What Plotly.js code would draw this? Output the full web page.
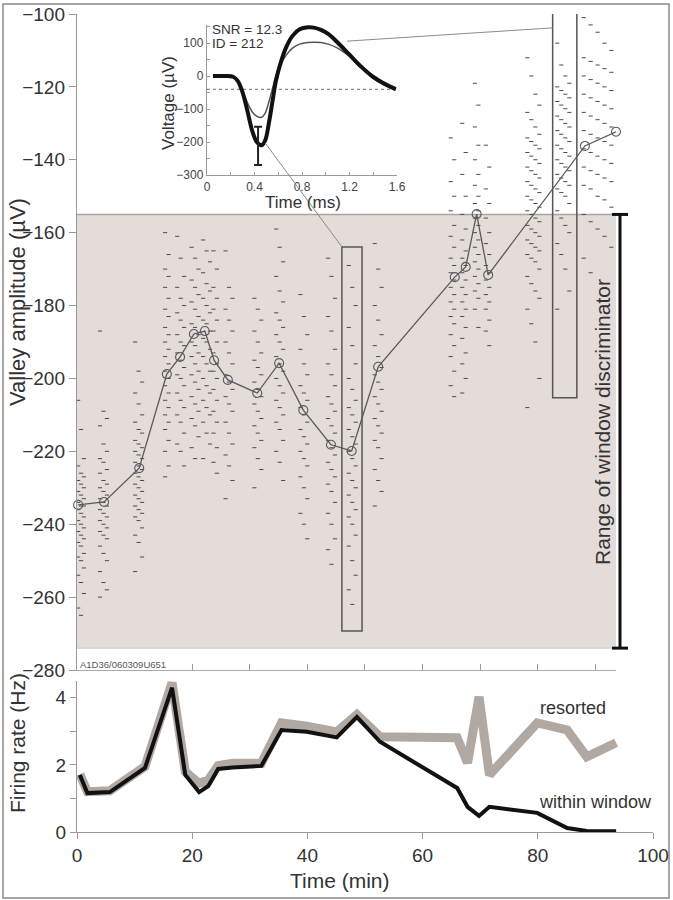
<!DOCTYPE html>
<html><head><meta charset="utf-8">
<script src="https://cdn.plot.ly/plotly-3.0.1.min.js"></script>
<style>html,body{margin:0;padding:0;background:#fff}#chart{width:673px;height:900px}</style>
</head><body><div id="chart"></div>
<script>
// ---------- DATA ----------
// spike valley amplitudes: time columns (min) for each recording block, and amplitudes (µV)
const clusterTimes = [
  [0.2,0.7,1.2],[4.0,4.6,5.2],[10.1,10.7,11.3],[15.3,15.9],[17.4,18.0,18.6],
  [19.9,20.5,21.1],[21.9,22.5,23.1],[23.7,24.3],[25.8,26.4,27.0],[30.8,31.4,32.0],
  [34.6,35.2,35.8],[38.8,39.4,40.0],[43.6,44.2,44.8],[47.2,47.8,48.4],[51.7,52.3,52.9],
  [64.9,65.5],[66.9,67.5],[69.1,69.7],[71.0,71.6],[78.2,78.9,79.6,80.3],
  [83.4,84.1,84.8,85.5],[88.0,89.2,90.4,91.6,92.8]
];
const clusterAmps = [
  [-206,-214,-222,-224,-226,-227,-228,-229,-230,-231,-232,-233,-234,-235,-235,-236,-237,-238,-239,-240,-241,-242,-243,-244,-245,-246,-248,-249,-250,-252,-254,-256,-259,-263,-265],
  [-187,-209,-211,-213,-218,-220,-222,-223,-225,-226,-228,-229,-230,-231,-232,-233,-234,-235,-236,-237,-238,-239,-240,-241,-242,-243,-244,-246,-248,-250,-253,-256,-258,-260],
  [-190,-198,-201,-204,-207,-210,-212,-214,-215,-217,-218,-219,-220,-221,-222,-223,-224,-225,-226,-227,-228,-229,-230,-231,-232,-233,-234,-235,-236,-237,-238,-239,-241,-243,-245,-249,-253],
  [-160,-166,-170,-172,-175,-178,-181,-183,-186,-188,-190,-192,-194,-196,-198,-200,-202,-204,-206,-208,-210,-212,-214,-217,-220,-224,-227],
  [-161,-167,-172,-175,-178,-180,-182,-184,-186,-188,-190,-191,-193,-195,-197,-199,-200,-202,-204,-206,-208,-210,-212,-215,-218,-220,-224],
  [-164,-167,-170,-173,-175,-177,-179,-181,-183,-185,-186,-188,-190,-191,-193,-194,-196,-198,-199,-201,-203,-205,-207,-209,-211,-213,-216,-219,-222],
  [-162,-165,-168,-171,-174,-176,-178,-180,-182,-184,-185,-187,-189,-190,-192,-194,-196,-198,-200,-202,-204,-206,-208,-210,-212,-215,-218,-222],
  [-165,-170,-175,-178,-181,-184,-187,-190,-193,-196,-198,-200,-203,-206,-209,-212,-215,-219,-223,-226],
  [-165,-175,-178,-181,-184,-187,-190,-193,-196,-199,-201,-203,-205,-207,-209,-212,-215,-218,-221,-224,-228,-233],
  [-178,-181,-184,-187,-190,-193,-195,-197,-199,-201,-203,-205,-207,-209,-211,-213,-215,-217,-219,-222,-225,-230],
  [-159,-164,-168,-172,-176,-179,-182,-184,-186,-188,-190,-192,-194,-196,-198,-200,-202,-204,-206,-208,-210,-212,-214,-217,-220,-223,-228],
  [-177,-183,-188,-192,-196,-199,-202,-204,-206,-208,-210,-212,-214,-216,-218,-220,-222,-224,-227,-230,-233,-237,-240,-244],
  [-167,-172,-178,-183,-187,-192,-196,-199,-202,-205,-207,-209,-211,-213,-215,-217,-219,-221,-223,-225,-227,-229,-231,-234,-237,-240,-244,-247,-251],
  [-169,-175,-180,-186,-191,-196,-200,-203,-206,-208,-210,-212,-214,-216,-218,-220,-222,-224,-226,-228,-230,-232,-234,-236,-238,-240,-243,-246,-250,-254,-258,-262],
  [-163,-170,-175,-180,-184,-188,-191,-194,-197,-199,-201,-203,-205,-207,-209,-211,-213,-215,-217,-219,-222,-225,-228,-231,-235],
  [-134,-140,-146,-150,-154,-158,-161,-164,-167,-169,-171,-173,-175,-177,-179,-181,-183,-185,-188,-191,-194,-198,-202,-205],
  [-130,-138,-144,-150,-155,-159,-162,-165,-167,-169,-171,-173,-175,-177,-179,-181,-183,-186,-189,-193,-196,-200,-204],
  [-119,-125,-131,-136,-140,-144,-147,-150,-152,-154,-156,-158,-160,-162,-164,-166,-168,-170,-172,-174,-176,-178,-181,-186],
  [-136,-142,-148,-152,-156,-160,-163,-166,-169,-171,-173,-175,-177,-179,-181,-184,-187,-191],
  [-112,-117,-122,-125,-127,-129,-131,-133,-134,-135,-136,-137,-138,-139,-140,-141,-142,-143,-144,-145,-146,-147,-148,-149,-150,-151,-152,-153,-154,-155,-156,-157,-158,-159,-160,-161,-162,-163,-164,-165,-166,-167,-168,-170,-172,-174,-176,-178,-181,-185,-190,-200,-208],
  [-108,-114,-117,-119,-120,-121,-122,-123,-124,-125,-126,-127,-128,-129,-130,-131,-132,-133,-134,-135,-136,-137,-138,-139,-140,-141,-142,-143,-144,-145,-146,-147,-148,-149,-150,-152,-154,-156,-158,-160,-163,-166,-170,-176,-181],
  [-101,-103,-105,-108,-110,-112,-113,-114,-115,-116,-117,-118,-119,-120,-121,-122,-123,-124,-125,-126,-127,-128,-129,-130,-131,-132,-133,-134,-135,-136,-137,-138,-139,-140,-141,-142,-143,-144,-145,-146,-147,-148,-150,-151,-153,-155,-157,-159,-161,-164,-167,-171]
];
// block means
const meanTime = [0.2,4.7,10.8,15.6,17.9,20.3,22.2,23.8,26.2,31.3,35.1,39.3,44.1,47.7,52.3,65.6,67.5,69.4,71.4,88.2,93.6];
const meanAmp  = [-234.7,-233.9,-224.6,-198.8,-194.1,-187.8,-187,-195,-200.4,-204,-195.8,-208.7,-218.2,-219.9,-196.8,-172.2,-169.4,-154.9,-171.6,-136.2,-132.3];
// window discriminator range and highlighted blocks
const windowRange = [-274, -155];
const box1 = {t: [46.0, 49.5], v: [-269.3, -163.9]};
const box2 = {t: [82.6, 86.8], v: [-205.3, -99.7]};
// firing rate
const rateTime = [0.5,1.8,5.7,11.8,16.5,18.8,21.2,22.8,24.5,27,32,35.5,39.9,45.1,48.6,52.6,66,67.8,69.8,71.6,79.9,85.1,88.5,93.6];
const rateWithin   = [1.70,1.16,1.19,1.91,4.30,1.70,1.19,1.37,1.88,1.92,1.97,3.04,2.99,2.82,3.43,2.69,1.31,0.75,0.48,0.75,0.57,0.12,0.03,0.02];
const rateResorted = [1.72,1.20,1.23,1.95,4.45,1.80,1.45,1.55,1.98,2.05,2.05,3.25,3.15,2.98,3.50,2.84,2.81,2.06,4.03,1.70,3.25,3.04,2.24,2.66];
// inset waveform
const waveTime  = [0.05,0.15,0.22,0.26,0.30,0.34,0.38,0.42,0.46,0.49,0.52,0.55,0.58,0.62,0.67,0.72,0.78,0.85,0.90,0.96,1.02,1.10,1.20,1.30,1.40,1.50,1.59];
const waveThick = [0,0,-2,-15,-50,-105,-165,-200,-210,-195,-145,-80,-15,40,90,122,142,148,147,140,128,102,65,28,-3,-25,-40];
const waveThin  = [0,0,-2,-14,-45,-80,-108,-122,-125,-112,-80,-40,0,35,65,85,97,102,103,102,97,85,60,30,2,-20,-35];
const thresholdV = -40;
const errTime = 0.43, errMean = -212, errHalf = 58;
const snrText = 'SNR = 12.3', idText = 'ID = 212';
const unitLabel = 'A1D36/060309U651';

// ---------- LAYOUT HELPERS ----------
const W = 673, H = 900;
const PX = x => x / W, PY = y => 1 - y / H;
const FONT = '"Liberation Sans", Arial, sans-serif';
const TXT = '#333';

const dom = {
  x:  [PX(77), PX(616)], y:  [PY(670), PY(14)],
  x2: [PX(77), PX(653)], y2: [PY(832), PY(681)],
  x3: [PX(207), PX(397)], y3: [PY(175), PY(25)]
};
const rng = { x: [0, 93.6], y: [-280, -100], x2: [0, 100], y2: [0, 4.5], x3: [0, 1.6], y3: [-300, 155] };
function toPaper(ax, ay, xv, yv) {
  const dx = dom[ax], dy = dom[ay], rx = rng[ax], ry = rng[ay];
  return [dx[0] + (xv - rx[0]) / (rx[1] - rx[0]) * (dx[1] - dx[0]),
          dy[0] + (yv - ry[0]) / (ry[1] - ry[0]) * (dy[1] - dy[0])];
}

// ---------- TRACES ----------
const dotX = [], dotY = [];
clusterAmps.forEach((amps, k) => {
  const cols = clusterTimes[k];
  amps.forEach((v, i) => { dotX.push(cols[i % cols.length]); dotY.push(v); });
});

const traces = [
  {x: dotX, y: dotY, xaxis: 'x', yaxis: 'y', mode: 'markers', type: 'scatter', cliponaxis: false,
   marker: {symbol: 'line-ew', size: 3, line: {width: 1, color: '#4a4a4a'}}, hoverinfo: 'skip'},
  {x: meanTime, y: meanAmp, xaxis: 'x', yaxis: 'y', mode: 'lines+markers', type: 'scatter', cliponaxis: false,
   line: {color: '#5a5a5a', width: 1.3},
   marker: {symbol: 'circle-open', size: 9, color: '#5a5a5a', line: {width: 1.1, color: '#5a5a5a'}}},
  {x: rateTime, y: rateResorted, xaxis: 'x2', yaxis: 'y2', mode: 'lines', type: 'scatter', cliponaxis: false,
   line: {color: '#b2a8a2', width: 9}},
  {x: rateTime, y: rateWithin, xaxis: 'x2', yaxis: 'y2', mode: 'lines', type: 'scatter', cliponaxis: false,
   line: {color: '#111', width: 4}},
  {x: [0, 1.6], y: [thresholdV, thresholdV], xaxis: 'x3', yaxis: 'y3', mode: 'lines', type: 'scatter',
   line: {color: '#888', width: 1.2, dash: 'dot'}},
  {x: waveTime, y: waveThin, xaxis: 'x3', yaxis: 'y3', mode: 'lines', type: 'scatter',
   line: {color: '#555', width: 1.5, shape: 'spline'}},
  {x: waveTime, y: waveThick, xaxis: 'x3', yaxis: 'y3', mode: 'lines', type: 'scatter',
   line: {color: '#111', width: 4, shape: 'spline'}},
  {x: [errTime], y: [errMean], xaxis: 'x3', yaxis: 'y3', mode: 'markers', type: 'scatter',
   marker: {size: 1, color: 'rgba(0,0,0,0)'},
   error_y: {type: 'data', array: [errHalf], arrayminus: [errHalf], symmetric: false, color: '#222', thickness: 2, width: 4}}
];

// ---------- SHAPES ----------
const c1a = toPaper('x3', 'y3', 1.18, 106), c1b = toPaper('x', 'y', box2.t[0], -103.8);
const c2a = toPaper('x3', 'y3', 0.49, -203), c2b = toPaper('x', 'y', box1.t[0], box1.v[1]);
const barX = PX(620);
const shapes = [
  {type: 'rect', xref: 'x', yref: 'y', x0: 0, x1: 93.6, y0: windowRange[0], y1: windowRange[1],
   fillcolor: '#e3dcd9', line: {width: 0}, layer: 'below'},
  {type: 'line', xref: 'x', yref: 'y', x0: 0, x1: 93.6, y0: windowRange[1], y1: windowRange[1],
   line: {color: '#aaa39f', width: 1.5}, layer: 'below'},
  {type: 'line', xref: 'x', yref: 'y', x0: 0, x1: 93.6, y0: windowRange[0], y1: windowRange[0],
   line: {color: '#cfc8c5', width: 1}, layer: 'below'},
  {type: 'rect', xref: 'x', yref: 'y', x0: box1.t[0], x1: box1.t[1], y0: box1.v[0], y1: box1.v[1],
   line: {color: '#555', width: 1.5}},
  {type: 'rect', xref: 'x', yref: 'y', x0: box2.t[0], x1: box2.t[1], y0: box2.v[0], y1: box2.v[1],
   line: {color: '#555', width: 1.5}},
  {type: 'line', xref: 'paper', yref: 'paper', x0: c1a[0], y0: c1a[1], x1: c1b[0], y1: c1b[1],
   line: {color: '#8a8a8a', width: 1}},
  {type: 'line', xref: 'paper', yref: 'paper', x0: c2a[0], y0: c2a[1], x1: c2b[0], y1: c2b[1],
   line: {color: '#8a8a8a', width: 1}},
  {type: 'line', xref: 'paper', yref: 'y', x0: barX, x1: barX, y0: windowRange[0], y1: windowRange[1],
   line: {color: '#111', width: 3}},
  {type: 'line', xref: 'paper', yref: 'y', x0: PX(612), x1: PX(628), y0: windowRange[0], y1: windowRange[0],
   line: {color: '#111', width: 3}},
  {type: 'line', xref: 'paper', yref: 'y', x0: PX(612), x1: PX(628), y0: windowRange[1], y1: windowRange[1],
   line: {color: '#111', width: 3}},
  {type: 'rect', xref: 'paper', yref: 'paper', x0: PX(3), x1: PX(669), y0: PY(898), y1: PY(4),
   line: {color: '#8a8a8a', width: 1.5}}
];

// ---------- ANNOTATIONS ----------
function ann(text, x, y, size, opts) {
  return Object.assign({text, x: PX(x), y: PY(y), xref: 'paper', yref: 'paper', showarrow: false,
    xanchor: 'center', yanchor: 'middle', font: {family: FONT, size, color: TXT}}, opts || {});
}
const annotations = [
  ann('Valley amplitude (µV)', 17, 302, 22, {textangle: -90}),
  ann('Firing rate (Hz)', 17, 743, 21, {textangle: -90}),
  ann('Time (min)', 340, 880, 21),
  ann('Voltage (µV)', 168, 103, 17, {textangle: -90}),
  ann('Time (ms)', 303, 202, 17),
  ann(snrText, 210, 30, 13.5, {xanchor: 'left'}),
  ann(idText, 210, 44, 13.5, {xanchor: 'left'}),
  ann(unitLabel, 78, 664, 9.5, {xanchor: 'left', font: {family: FONT, size: 9.5, color: '#555'}}),
  ann('Range of window discriminator', 602, 422, 21, {textangle: -90}),
  ann('resorted', 573, 708, 18),
  ann('within window', 595, 802, 18)
];

const axBase = {showgrid: false, zeroline: false, showline: true, linecolor: '#999', linewidth: 1.2,
  tickcolor: '#999', tickfont: {family: FONT, size: 19, color: TXT}, fixedrange: true};

const layout = {
  width: W, height: H, margin: {l: 0, r: 0, t: 0, b: 0}, showlegend: false,
  paper_bgcolor: '#fff', plot_bgcolor: 'rgba(0,0,0,0)', font: {family: FONT, color: TXT},
  xaxis: Object.assign({}, axBase, {domain: dom.x, range: rng.x, anchor: 'y', showticklabels: false,
    ticks: 'inside', tickmode: 'array', tickvals: [20, 30, 40, 50, 60, 70, 80, 90], ticklen: 6, linecolor: '#aaa'}),
  yaxis: Object.assign({}, axBase, {domain: dom.y, range: rng.y, anchor: 'x', ticks: 'outside',
    dtick: 20, tick0: -100, ticklen: 7}),
  xaxis2: Object.assign({}, axBase, {domain: dom.x2, range: rng.x2, anchor: 'y2', ticks: 'outside',
    dtick: 20, ticklen: 6}),
  yaxis2: Object.assign({}, axBase, {domain: dom.y2, range: rng.y2, anchor: 'x2', ticks: 'outside',
    tickmode: 'array', tickvals: [0, 1, 2, 3, 4], ticktext: ['0', '', '2', '', '4'], ticklen: 6}),
  xaxis3: Object.assign({}, axBase, {domain: dom.x3, range: rng.x3, anchor: 'y3', ticks: 'inside',
    tickmode: 'array', tickvals: [0, 0.4, 0.8, 1.2, 1.6], ticktext: ['0', '0.4', '0.8', '1.2', '1.6'],
    ticklen: 3, tickfont: {family: FONT, size: 12, color: '#444'},
    minor: {tickvals: [0.2, 0.6, 1.0, 1.4], ticks: 'inside', ticklen: 3, tickcolor: '#999'}}),
  yaxis3: Object.assign({}, axBase, {domain: dom.y3, range: rng.y3, anchor: 'x3', ticks: 'inside',
    tickmode: 'array', tickvals: [-300, -200, -100, 0, 100], ticklen: 3,
    tickfont: {family: FONT, size: 12, color: '#444'},
    minor: {tickvals: [-250, -150, -50, 50, 150], ticks: 'inside', ticklen: 3, tickcolor: '#999'}}),
  shapes, annotations
};

Plotly.newPlot('chart', traces, layout, {staticPlot: true, displayModeBar: false});
</script></body></html>
